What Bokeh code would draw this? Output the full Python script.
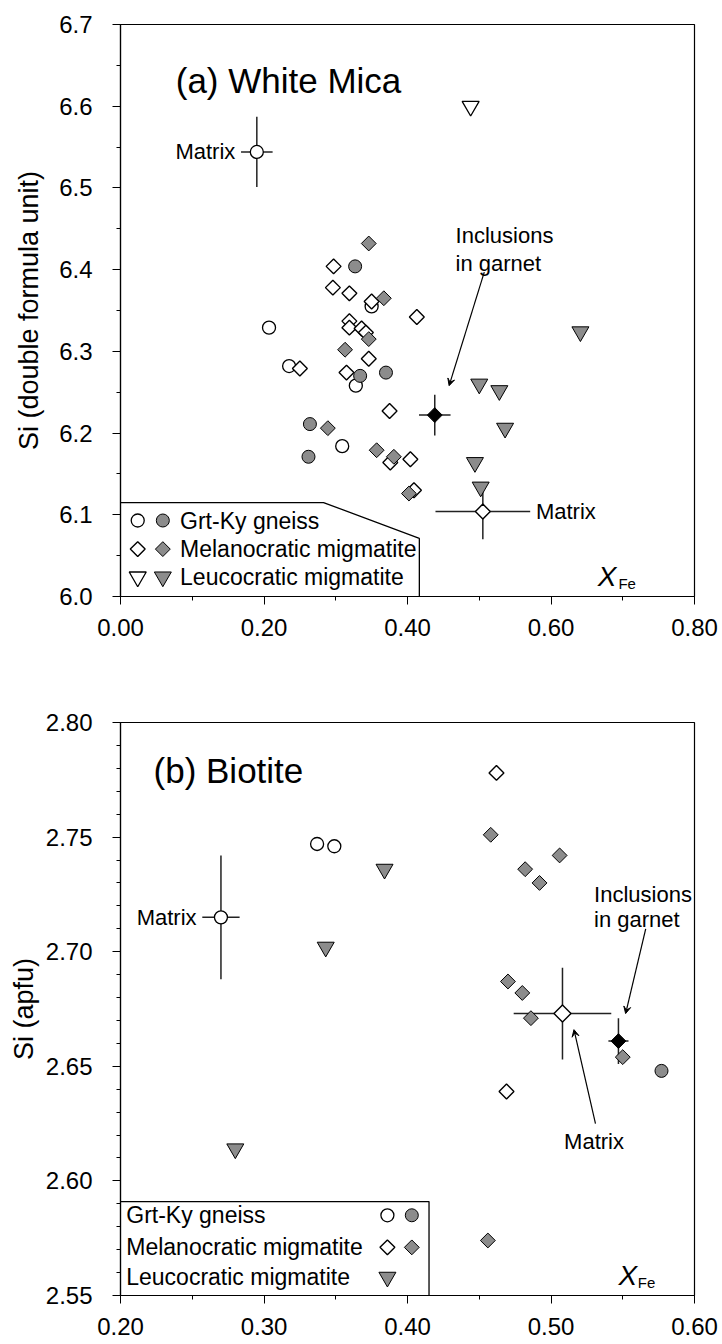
from bokeh.plotting import figure
from bokeh.layouts import column
from bokeh.models import FixedTicker, Label, Arrow, VeeHead, Range1d
from bokeh.embed import file_html
from bokeh.resources import INLINE
import numpy as np

FONT = "Liberation Sans"
GRAY = "#8c8c8c"

# ---------------- Panel (a) White Mica ----------------
a_gneiss_open_x = [0.207, 0.235, 0.309, 0.328, 0.350]
a_gneiss_open_y = [6.329, 6.282, 6.184, 6.258, 6.355]
a_gneiss_fill_x = [0.327, 0.264, 0.262, 0.334, 0.370]
a_gneiss_fill_y = [6.404, 6.211, 6.171, 6.270, 6.274]
a_mel_open_x = [0.297, 0.296, 0.319, 0.350, 0.413, 0.319, 0.319, 0.336, 0.342,
                0.346, 0.250, 0.315, 0.375, 0.376, 0.404, 0.409]
a_mel_open_y = [6.404, 6.378, 6.371, 6.361, 6.342, 6.337, 6.329, 6.328, 6.323,
                6.291, 6.279, 6.274, 6.227, 6.164, 6.168, 6.130]
a_mel_fill_x = [0.346, 0.367, 0.346, 0.313, 0.289, 0.357, 0.381, 0.402]
a_mel_fill_y = [6.432, 6.365, 6.315, 6.302, 6.206, 6.179, 6.171, 6.126]
a_leu_open_x = [0.488]
a_leu_open_y = [6.600]
a_leu_fill_x = [0.641, 0.500, 0.528, 0.536, 0.494, 0.502]
a_leu_fill_y = [6.324, 6.260, 6.252, 6.206, 6.164, 6.134]
# averages with error bars
a_matrix_circ = dict(x=0.190, y=6.544, dx=0.022, dy=0.043)
a_incl_dia = dict(x=0.438, y=6.222, dx=0.022, dy=0.025)
a_matrix_dia = dict(x=0.505, y=6.104, dx=0.066, dy=0.034)

a_xticks = [0.0, 0.2, 0.4, 0.6, 0.8]
a_xlabels = ["0.00", "0.20", "0.40", "0.60", "0.80"]
a_xminor = [0.1, 0.3, 0.5, 0.7]
a_yticks = [6.0, 6.1, 6.2, 6.3, 6.4, 6.5, 6.6, 6.7]
a_ylabels = ["6.0", "6.1", "6.2", "6.3", "6.4", "6.5", "6.6", "6.7"]
a_yminor = [6.05, 6.15, 6.25, 6.35, 6.45, 6.55, 6.65]

# ---------------- Panel (b) Biotite ----------------
b_gneiss_open_x = [0.337, 0.349]
b_gneiss_open_y = [2.747, 2.746]
b_gneiss_fill_x = [0.577]
b_gneiss_fill_y = [2.648]
b_mel_open_x = [0.462, 0.469]
b_mel_open_y = [2.778, 2.639]
b_mel_fill_x = [0.458, 0.506, 0.482, 0.492, 0.470, 0.480, 0.486, 0.550, 0.456]
b_mel_fill_y = [2.751, 2.742, 2.736, 2.730, 2.687, 2.682, 2.671, 2.654, 2.574]
b_leu_fill_x = [0.384, 0.343, 0.280]
b_leu_fill_y = [2.736, 2.702, 2.614]
b_matrix_circ = dict(x=0.270, y=2.715, dx=0.013, dy=0.027)
b_matrix_dia = dict(x=0.508, y=2.673, dx=0.034, dy=0.020)
b_incl_dia = dict(x=0.547, y=2.661, dx=0.007, dy=0.010)

b_xticks = [0.2, 0.3, 0.4, 0.5, 0.6]
b_xlabels = ["0.20", "0.30", "0.40", "0.50", "0.60"]
b_xminor = [0.25, 0.35, 0.45, 0.55]
b_yticks = [2.55, 2.60, 2.65, 2.70, 2.75, 2.80]
b_ylabels = ["2.55", "2.60", "2.65", "2.70", "2.75", "2.80"]
b_yminor = [round(2.55 + 0.01 * i, 2) for i in range(26) if i % 5 != 0]

legend_labels = ["Grt-Ky gneiss", "Melanocratic migmatite", "Leucocratic migmatite"]


def base_fig(xr, yr, top, bottom, xt, xl, xm, yt, yl, ym, ylabel, lab_standoff):
    p = figure(width=722, height=672, x_range=Range1d(*xr), y_range=Range1d(*yr),
               output_backend="svg", toolbar_location=None,
               min_border_left=120, min_border_right=28,
               min_border_top=top, min_border_bottom=bottom)
    p.xgrid.visible = False
    p.ygrid.visible = False
    p.outline_line_color = "black"
    p.outline_line_width = 1.2
    p.background_fill_color = "white"
    p.border_fill_color = "white"
    p.xaxis.ticker = FixedTicker(ticks=xt, minor_ticks=xm)
    p.xaxis.major_label_overrides = {t: l for t, l in zip(xt, xl)}
    p.yaxis.ticker = FixedTicker(ticks=yt, minor_ticks=ym)
    p.yaxis.major_label_overrides = {t: l for t, l in zip(yt, yl)}
    for ax in (p.xaxis, p.yaxis):
        ax.axis_line_color = "black"
        ax.axis_line_width = 1.2
        ax.major_tick_line_color = "black"
        ax.minor_tick_line_color = "black"
        ax.major_tick_in = 0
        ax.minor_tick_in = 0
        ax.major_tick_out = 8
        ax.minor_tick_out = 4
        ax.major_label_text_font = FONT
        ax.major_label_text_font_size = "24px"
        ax.major_label_text_color = "black"
    p.xaxis.major_label_standoff = 14
    p.yaxis.major_label_standoff = 20
    p.yaxis.axis_label = ylabel
    p.yaxis.axis_label_text_font = FONT
    p.yaxis.axis_label_text_font_size = "27px"
    p.yaxis.axis_label_text_font_style = "normal"
    p.yaxis.axis_label_text_color = "black"
    p.yaxis.axis_label_standoff = lab_standoff
    return p


def lbl(p, x, y, text, size, align="left", baseline="middle", style="normal"):
    p.add_layout(Label(x=x, y=y, text=text, text_font=FONT, text_font_size=size,
                       text_align=align, text_baseline=baseline, text_color="black",
                       text_font_style=style))


def err(p, d, fill):
    p.segment(x0=[d["x"] - d["dx"], d["x"]], y0=[d["y"], d["y"] - d["dy"]],
              x1=[d["x"] + d["dx"], d["x"]], y1=[d["y"], d["y"] + d["dy"]],
              line_color="#222222", line_width=1.5)


def circles(p, x, y, fill, size=13):
    p.scatter(x, y, marker="circle", size=size, fill_color=fill,
              line_color="black", line_width=1.3 if fill == "white" else 1.0)


def diamonds(p, x, y, fill, size=10.5):
    p.scatter(x, y, marker="square", angle=np.pi / 4, size=size, fill_color=fill,
              line_color="black", line_width=1.4 if fill == "white" else 1.0)


def triangles(p, x, y, fill, size=17):
    p.scatter(x, y, marker="inverted_triangle", size=size, fill_color=fill,
              line_color="black", line_width=1.3 if fill == "white" else 1.0)


# ---------------- build (a) ----------------
pa = base_fig((0.0, 0.8), (6.0, 6.7), 24, 76, a_xticks, a_xlabels, a_xminor,
              a_yticks, a_ylabels, a_yminor, "Si (double formula unit)", 12)

err(pa, a_matrix_circ, "white")
err(pa, a_incl_dia, "black")
err(pa, a_matrix_dia, "white")

circles(pa, a_gneiss_open_x, a_gneiss_open_y, "white")
circles(pa, a_gneiss_fill_x, a_gneiss_fill_y, GRAY)
diamonds(pa, a_mel_open_x, a_mel_open_y, "white")
diamonds(pa, a_mel_fill_x, a_mel_fill_y, GRAY)
triangles(pa, a_leu_open_x, a_leu_open_y, "white")
triangles(pa, a_leu_fill_x, a_leu_fill_y, GRAY)
circles(pa, [a_matrix_circ["x"]], [a_matrix_circ["y"]], "white")
diamonds(pa, [a_incl_dia["x"]], [a_incl_dia["y"]], "black")
diamonds(pa, [a_matrix_dia["x"]], [a_matrix_dia["y"]], "white")

lbl(pa, 0.077, 6.631, "(a) White Mica", "35px", baseline="alphabetic")
lbl(pa, 0.160, 6.544, "Matrix", "22px", align="right")
lbl(pa, 0.579, 6.104, "Matrix", "22px")
lbl(pa, 0.467, 6.442, "Inclusions", "22px", baseline="alphabetic")
lbl(pa, 0.467, 6.407, "in garnet", "22px", baseline="alphabetic")
pa.add_layout(Arrow(end=VeeHead(size=7, fill_color="black", line_color="black"),
                    x_start=0.507, y_start=6.397, x_end=0.458, y_end=6.258,
                    line_color="black", line_width=1.2))
lbl(pa, 0.665, 6.024, "X", "28px", baseline="alphabetic", style="italic")
lbl(pa, 0.694, 6.016, "Fe", "15px", baseline="alphabetic")

# legend (a)
pa.line([0.0, 0.283, 0.4165, 0.4165], [6.115, 6.115, 6.071, 6.0],
        line_color="black", line_width=1.3)
leg_a_rows = [6.093, 6.058, 6.024]
circles(pa, [0.024], [leg_a_rows[0]], "white")
circles(pa, [0.059], [leg_a_rows[0]], GRAY)
diamonds(pa, [0.024], [leg_a_rows[1]], "white")
diamonds(pa, [0.059], [leg_a_rows[1]], GRAY)
triangles(pa, [0.024], [leg_a_rows[2]], "white")
triangles(pa, [0.059], [leg_a_rows[2]], GRAY)
for yy, t in zip(leg_a_rows, legend_labels):
    lbl(pa, 0.083, yy, t, "23px")

# ---------------- build (b) ----------------
pb = base_fig((0.2, 0.6), (2.55, 2.80), 50, 49, b_xticks, b_xlabels, b_xminor,
              b_yticks, b_ylabels, b_yminor, "Si (apfu)", 4)

err(pb, b_matrix_circ, "white")
err(pb, b_matrix_dia, "white")
err(pb, b_incl_dia, "black")

circles(pb, b_gneiss_open_x, b_gneiss_open_y, "white")
circles(pb, b_gneiss_fill_x, b_gneiss_fill_y, GRAY)
diamonds(pb, b_mel_open_x, b_mel_open_y, "white")
diamonds(pb, b_mel_fill_x, b_mel_fill_y, GRAY)
triangles(pb, b_leu_fill_x, b_leu_fill_y, GRAY)
circles(pb, [b_matrix_circ["x"]], [b_matrix_circ["y"]], "white")
diamonds(pb, [b_matrix_dia["x"]], [b_matrix_dia["y"]], "white", size=12)
diamonds(pb, [b_incl_dia["x"]], [b_incl_dia["y"]], "black")

lbl(pb, 0.223, 2.779, "(b) Biotite", "35px", baseline="alphabetic")
lbl(pb, 0.253, 2.715, "Matrix", "22px", align="right")
lbl(pb, 0.530, 2.725, "Inclusions", "22px", baseline="alphabetic")
lbl(pb, 0.530, 2.714, "in garnet", "22px", baseline="alphabetic")
pb.add_layout(Arrow(end=VeeHead(size=7, fill_color="black", line_color="black"),
                    x_start=0.566, y_start=2.710, x_end=0.552, y_end=2.673,
                    line_color="black", line_width=1.2))
lbl(pb, 0.530, 2.617, "Matrix", "22px", align="center", baseline="alphabetic")
pb.add_layout(Arrow(end=VeeHead(size=7, fill_color="black", line_color="black"),
                    x_start=0.531, y_start=2.625, x_end=0.516, y_end=2.666,
                    line_color="black", line_width=1.2))
lbl(pb, 0.547, 2.5587, "X", "28px", baseline="alphabetic", style="italic")
lbl(pb, 0.5605, 2.5558, "Fe", "15px", baseline="alphabetic")

# legend (b)
pb.line([0.2, 0.415, 0.415], [2.591, 2.591, 2.55], line_color="black", line_width=1.3)
leg_b_rows = [2.585, 2.571, 2.558]
circles(pb, [0.386], [leg_b_rows[0]], "white")
circles(pb, [0.403], [leg_b_rows[0]], GRAY)
diamonds(pb, [0.386], [leg_b_rows[1]], "white")
diamonds(pb, [0.403], [leg_b_rows[1]], GRAY)
triangles(pb, [0.386], [leg_b_rows[2]], GRAY)
for yy, t in zip(leg_b_rows, legend_labels):
    lbl(pb, 0.204, yy, t, "23px")

layout = column(pa, pb, spacing=0)
open("out.html", "w").write(file_html(layout, INLINE))
